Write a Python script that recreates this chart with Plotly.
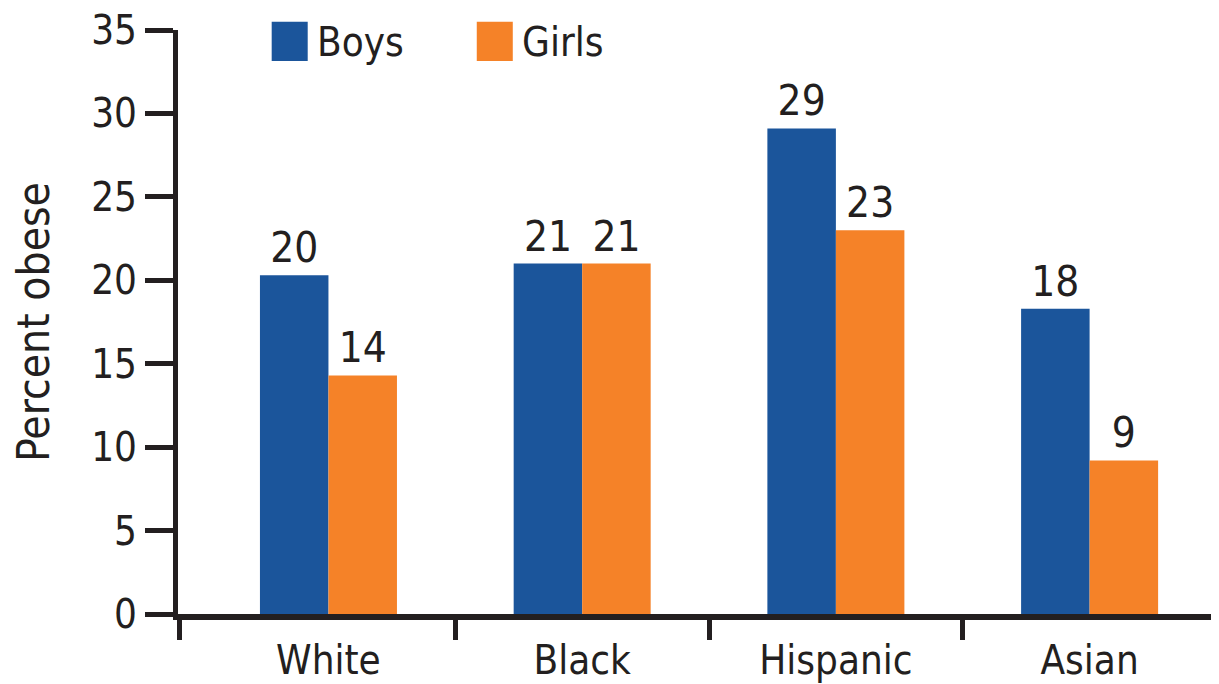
import plotly.graph_objects as go

# data
groups = ["White", "Black", "Hispanic", "Asian"]
boys = [20.3, 21.0, 29.1, 18.3]
girls = [14.3, 21.0, 23.0, 9.2]
y_ticks = [0, 5, 10, 15, 20, 25, 30, 35]

blue = "#1B559B"
orange = "#F58228"
ink = "#231F20"
font_name = "DejaVu Sans Condensed, sans-serif"

x = list(range(len(groups)))

fig = go.Figure()

fig.add_trace(go.Bar(
    x=x, y=boys, name="Boys",
    marker=dict(color=blue, line=dict(width=0)),
    text=[str(round(v)) for v in boys], textposition="outside",
    textfont=dict(size=42, color=ink, family=font_name),
    cliponaxis=False,
))
fig.add_trace(go.Bar(
    x=x, y=girls, name="Girls",
    marker=dict(color=orange, line=dict(width=0)),
    text=[str(round(v)) for v in girls], textposition="outside",
    textfont=dict(size=42, color=ink, family=font_name),
    cliponaxis=False,
))

# legend drawn as big swatches like the original
for x0, col, label in [(0.090, blue, "Boys"), (0.287, orange, "Girls")]:
    fig.add_shape(type="rect", xref="paper", yref="paper",
                  x0=x0, x1=x0 + 0.0346, y0=0.947, y1=1.014,
                  fillcolor=col, line=dict(width=0))
    fig.add_annotation(xref="paper", yref="paper", x=x0 + 0.042, y=0.98,
                       text=label, showarrow=False, xanchor="left", yanchor="middle",
                       font=dict(size=40, color=ink, family=font_name))

x_min, x_max = -0.593, 3.51

# page body has an 8px margin, so the figure is sized to fit inside the window
fig.update_layout(
    width=1211, height=676,
    margin=dict(l=170, r=0, t=22, b=70),
    barmode="group", bargap=0.46, bargroupgap=0,
    showlegend=False,
    plot_bgcolor="white", paper_bgcolor="white",
    font=dict(family=font_name, size=42, color=ink),
)
fig.update_xaxes(
    range=[x_min, x_max], automargin=False,
    tickmode="array", tickvals=x, ticktext=groups,
    ticks="", showgrid=False, zeroline=False,
    showline=True, linewidth=6, linecolor=ink,
    ticklabelstandoff=6, ticklabeloverflow="allow",
    tickfont=dict(size=40, color=ink),
    minor=dict(tickmode="array", tickvals=[x_min + 0.004, 0.5, 1.5, 2.5],
               ticks="outside", ticklen=20, tickwidth=5, tickcolor=ink, showgrid=False),
)
fig.update_yaxes(
    range=[0, 35], automargin=False,
    tickmode="array", tickvals=y_ticks,
    ticks="outside", ticklen=28, tickwidth=5, tickcolor=ink,
    showgrid=False, zeroline=False,
    showline=True, linewidth=5, linecolor=ink,
    ticklabeloverflow="allow",
    tickfont=dict(size=40, color=ink),
    title=dict(text="Percent obese", standoff=42, font=dict(size=44, color=ink)),
)

fig.write_html("out.html")
